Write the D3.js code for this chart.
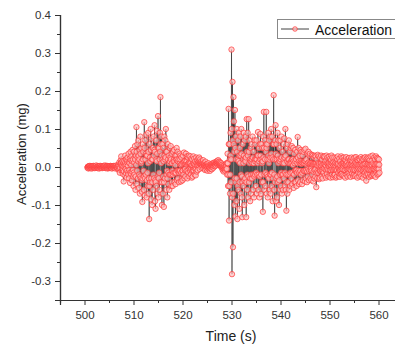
<!DOCTYPE html>
<html><head><meta charset="utf-8">
<script src="https://cdn.jsdelivr.net/npm/d3@7"></script>
<style>body{margin:0;background:#fff}svg{display:block}text{font-family:"Liberation Sans",Arial,sans-serif}</style>
</head><body><svg id="c" width="395" height="347"></svg>
<script>
// sampling of the recorded series
const timeStart = 500.6;
const timeStep = 0.05;
// acceleration values (mg), one per sample (one row = one second)
const acceleration = [
-.002,.000,.001,-.001,-.004,.001,.002,-.002,
-.001,.002,.003,-.001,-.003,.001,.000,-.002,.002,.001,-.004,.000,.001,.002,-.002,-.001,.003,.001,-.001,.000,
.002,.000,-.003,.001,.001,-.001,-.002,.002,.004,.000,-.001,-.002,.000,.001,-.003,.000,.002,.001,-.002,.000,
-.004,-.001,.001,.002,.003,.000,-.002,-.001,.000,.001,.002,-.002,-.003,.000,.001,.002,-.001,.000,.003,.001,
.001,.000,-.002,.001,.004,.000,-.003,-.001,.002,.001,-.001,.000,.003,.001,-.004,-.002,.000,.001,.002,.000,
-.003,-.001,.002,.000,-.001,.001,.003,.000,-.002,.001,.001,-.001,-.004,.000,.002,.001,.000,-.001,-.002,.001,
.003,.001,-.001,.000,.002,-.002,-.004,.001,.001,.003,.004,.000,-.002,.001,.000,-.003,-.003,.002,.005,.006,
-.008,.004,.012,-.005,-.015,-.002,.006,.01,.018,.008,.028,.012,-.01,-.004,.004,.015,-.018,-.008,.01,.002,
-.038,-.012,.015,.005,-.022,.008,.03,.012,-.005,-.016,.02,.006,-.028,-.01,.012,.018,.025,.004,-.015,-.02,
.035,.012,-.03,-.008,.01,.022,-.042,-.015,.04,.018,-.018,.005,.028,-.012,-.035,.015,.045,.02,-.008,-.025,
-.05,-.015,.04,.012,-.02,.025,.055,.02,-.06,-.025,.03,.005,.105,.04,-.045,-.01,.06,.025,-.03,.015,
.07,.03,-.055,-.02,.02,.045,-.07,-.025,.08,.035,-.03,.01,.05,.015,-.065,-.035,-.092,-.03,.06,.02,
.04,-.01,-.06,-.025,.118,.05,-.075,-.03,.07,.02,-.02,.035,.085,.03,-.08,-.035,.03,-.015,-.05,.01,
.09,.04,-.07,-.03,-.137,-.05,.06,.025,-.04,.015,.1,.045,-.085,-.03,.075,.02,-.1,-.04,.02,.05,
-.06,-.02,.08,.03,-.03,.045,.11,.04,-.09,-.035,-.11,-.04,.07,.02,-.05,.015,.095,.035,-.07,-.025,
.134,.05,-.08,-.03,.05,-.015,-.06,.02,.09,.04,.184,.06,-.04,.01,.08,.03,-.1,-.04,.06,.02,
-.07,-.025,.05,.015,-.105,-.04,.08,.03,-.03,.02,.07,.025,.1,.04,-.06,-.02,.04,-.01,-.08,-.03,
.06,.02,-.045,-.015,.03,.01,-.06,-.02,.05,.015,-.02,.025,.055,.02,-.05,-.02,.035,.01,-.04,-.01,
-.05,-.02,.04,.015,-.015,.02,.045,.015,-.04,-.015,.03,.005,-.045,-.015,.02,.03,.05,.02,-.035,-.01,
.04,.015,-.03,-.01,.02,-.015,-.04,-.01,.035,.01,-.01,.02,.03,.005,-.038,-.015,.025,.008,-.03,-.01,
-.035,-.01,.03,.01,-.02,.012,.038,.015,-.03,-.008,.015,-.005,-.025,.008,.035,.012,-.01,.015,.028,.006,
-.03,-.01,.025,.008,-.015,.01,.03,.012,-.025,-.005,.01,-.01,.028,.01,-.02,-.006,.022,.005,-.028,-.01,
.02,.005,-.025,-.008,.028,.01,-.01,.006,.022,.008,-.02,-.004,.015,.005,-.022,-.006,.025,.01,-.012,.004,
.018,.006,-.008,.01,.022,.012,.005,.015,.025,.01,-.005,.008,.02,.012,.01,.006,.015,.008,-.002,.006,
.012,.006,.002,.01,.018,.008,-.004,.004,.01,.005,.006,.002,-.008,.002,.014,.006,.002,.004,-.006,.002,
.008,.002,-.01,-.002,.004,.002,.01,.004,-.006,.000,.002,-.002,-.01,-.004,.006,.002,-.004,.002,.008,.004,
-.006,.000,.004,.006,.01,.004,-.002,.003,.008,.01,.012,.006,.002,.006,.01,.008,.004,.009,.014,.01,
.01,.013,.016,.01,.006,.012,.018,.012,.008,.01,.014,.009,.004,.008,.012,.007,.002,.006,.01,.004,
-.002,.002,.006,.001,-.008,-.003,.002,-.002,-.012,-.006,.004,.000,-.006,-.004,-.01,-.004,.002,.000,-.004,.004,
.01,-.005,-.02,.01,.035,.01,-.05,-.02,.153,.06,-.141,-.05,.06,.02,-.07,-.02,.09,.03,-.04,.02,
.309,.1,-.282,-.08,.224,.07,-.211,-.07,.184,.06,.12,.04,-.1,-.03,.15,.05,-.13,-.04,.08,.02,
-.09,-.03,.1,.04,-.137,-.05,.07,.02,-.06,.015,.09,.03,-.11,-.04,.05,.01,.08,.03,-.07,-.02,
.1,.035,-.08,-.025,-.132,-.04,.06,.02,-.05,.01,.09,.03,-.1,-.035,.07,.02,-.03,.015,.08,.025,
-.132,-.04,.126,.04,-.06,-.02,.09,.03,-.08,-.025,.126,.04,-.04,.01,.07,.02,-.09,-.03,.05,.015,
-.07,-.02,.06,.02,-.03,.01,.08,.025,-.06,-.02,.04,.01,-.08,-.025,.07,.02,-.02,.015,.06,.02,
-.05,-.015,.07,.02,-.07,-.02,.03,.01,.092,.03,-.06,-.02,.05,.015,-.08,-.025,.06,.02,.087,.03,
-.071,-.02,.06,.02,-.04,.01,.05,.015,-.118,-.04,.08,.025,.145,.05,-.06,-.02,.07,.02,-.05,-.015,
.04,.06,.145,.05,-.07,-.02,.06,.02,-.08,-.025,.09,.03,-.03,.01,.07,.02,-.06,-.02,.08,.025,
-.07,-.02,.1,.035,-.05,-.015,.08,.025,-.09,-.03,.06,.02,.189,.06,-.06,-.02,-.128,-.04,.07,.02,
.11,.035,-.09,-.03,.06,.02,-.08,-.025,.09,.03,-.04,.01,.07,.02,-.1,-.035,.05,.015,-.06,-.02,
.07,.02,-.05,-.015,.08,.025,-.07,-.02,.04,.01,-.06,-.02,.06,.02,-.03,.01,.075,.025,-.05,-.015,
.1,.03,-.06,-.02,-.115,-.04,.05,.015,-.07,-.02,.06,.02,-.04,.01,.07,.02,-.06,-.02,.04,.01,
-.05,-.015,.05,.015,-.03,.01,.055,.02,-.045,-.015,.02,.005,.05,.015,-.055,-.02,.035,.01,-.04,-.01,
.045,.015,-.04,-.01,.02,-.008,-.05,-.015,.04,.01,.079,.025,-.035,-.01,.05,.015,-.045,-.015,.03,.01,
-.04,-.01,.045,.015,-.02,.008,.04,.012,-.045,-.015,.03,.01,-.035,-.01,.04,.012,-.01,.01,.045,.015,
-.038,-.01,.048,.015,-.03,-.008,.02,.006,-.04,-.012,.035,.01,-.025,-.006,.04,.012,-.035,-.01,.03,.008,
.035,.01,-.03,-.008,.01,-.004,-.035,-.01,.032,.01,-.02,.006,.03,.008,-.038,-.012,.025,.008,-.03,-.008,
.03,.008,-.025,-.006,.028,.008,-.053,-.015,.02,.005,-.03,-.01,.032,.01,-.015,.004,.028,.008,-.032,-.01,
-.028,-.008,.025,.008,-.01,.004,.03,.01,-.025,-.008,.02,.006,-.03,-.01,.028,.008,-.015,-.004,.026,.008,
.028,.008,-.022,-.006,.015,.004,-.028,-.008,.03,.01,-.018,-.005,.025,.008,-.025,-.008,.01,.003,.027,.008,
-.025,-.008,.022,.006,-.028,-.008,.018,.005,.03,.01,-.02,-.006,.025,.008,-.027,-.008,.012,.004,-.022,-.006,
.025,.008,-.02,-.006,.01,.003,-.028,-.008,.024,.008,-.025,-.008,.02,.006,.028,.008,-.015,-.004,-.024,-.008,
.022,.006,-.026,-.008,.015,.004,-.02,-.006,.028,.008,-.018,-.005,.024,.008,-.022,-.006,.01,.003,.025,.008,
-.024,-.008,.02,.006,-.028,-.008,.018,.005,.026,.008,-.02,-.006,.012,.004,-.025,-.008,.022,.006,-.016,-.005,
.024,.008,-.022,-.006,.018,.005,-.026,-.008,.02,.006,.025,.008,-.018,-.005,.015,.004,-.024,-.008,.022,.006,
-.02,-.006,.025,.008,-.024,-.008,.012,.004,.026,.008,-.022,-.006,.02,.006,-.028,-.008,.018,.005,-.015,-.004,
.022,.006,-.025,-.008,.02,.006,-.018,-.005,.026,.008,-.024,-.008,.015,.004,.022,.006,-.028,-.008,.02,.006,
-.02,-.006,.024,.008,-.015,-.004,.026,.008,-.022,-.006,-.036,-.01,.022,.006,-.018,-.005,.025,.008,-.02,-.006,
.022,.006,-.026,-.008,.018,.005,-.02,-.006,.028,.008,-.024,-.008,.016,.005,-.022,-.006,.03,.01,-.018,-.005,
-.02,-.006,.025,.008,-.022,-.006,.02,.006,-.026,-.008,.028,.008,-.015,-.004,.024,.008,-.02,-.006,.022,.006,
-.018,-.005,.02,.006,-.015
];
const xTicks = [500,510,520,530,540,550,560];
const xMinor = [495,505,515,525,535,545,555,565];
const yTicks = [-0.3,-0.2,-0.1,0.0,0.1,0.2,0.3,0.4];
const yMinor = [-0.35,-0.25,-0.15,-0.05,0.05,0.15,0.25,0.35];
const seriesName = "Acceleration";
const xTitle = "Time (s)";
const yTitle = "Acceleration (mg)";

const data = acceleration.map((v,i)=>({t: timeStart + i*timeStep, v}));
const svg = d3.select("#c");
const x = d3.scaleLinear().domain([495,565]).range([60,403]);
const y = d3.scaleLinear().domain([-0.35,0.4]).range([300,15]);
const axisCol = "#333";
const fmtY = d => d.toFixed(1);

// axes
const gx = svg.append("g").attr("transform","translate(0,300)");
gx.call(d3.axisBottom(x).tickValues(xTicks).tickSize(5).tickPadding(6).tickFormat(d3.format("d")));
gx.append("g").call(d3.axisBottom(x).tickValues(xMinor).tickSize(3).tickFormat(""));
const gy = svg.append("g").attr("transform","translate(60,0)");
gy.call(d3.axisLeft(y).tickValues(yTicks).tickSize(5).tickPadding(4).tickFormat(fmtY));
gy.append("g").call(d3.axisLeft(y).tickValues(yMinor).tickSize(3).tickFormat(""));
svg.selectAll(".domain").attr("stroke",axisCol).attr("stroke-width",1.2);
svg.selectAll(".tick line").attr("stroke",axisCol);
svg.selectAll(".tick text").attr("fill","#333").style("font-size","11.5px").style("font-family","Liberation Sans, Arial, sans-serif");

// titles
svg.append("text").attr("x",231).attr("y",341).attr("text-anchor","middle")
  .style("font-size","14px").attr("fill","#222").text(xTitle);
svg.append("text").attr("transform","translate(26,154) rotate(-90)").attr("text-anchor","middle")
  .style("font-size","13px").attr("fill","#222").text(yTitle);

// series
const line = d3.line().x(d=>x(d.t)).y(d=>y(d.v));
svg.append("path").datum(data).attr("d",line).attr("fill","none").attr("stroke","#222").attr("stroke-width",0.6);
svg.append("g").selectAll("circle").data(data).join("circle")
  .attr("cx",d=>x(d.t)).attr("cy",d=>y(d.v)).attr("r",2.7)
  .attr("fill","rgba(255,190,190,0.7)").attr("stroke","#ff3535").attr("stroke-width",0.7);

// legend
const lg = svg.append("g");
lg.append("rect").attr("x",277.5).attr("y",19.5).attr("width",130).attr("height",19)
  .attr("fill","#fff").attr("stroke","#888");
lg.append("line").attr("x1",281).attr("x2",309).attr("y1",29).attr("y2",29).attr("stroke","#111").attr("stroke-width",0.8);
lg.append("circle").attr("cx",295).attr("cy",29).attr("r",2.3).attr("fill","rgba(255,190,190,0.7)").attr("stroke","#ff3535").attr("stroke-width",0.7);
lg.append("text").attr("x",315).attr("y",34.5).style("font-size","14px").attr("fill","#111").text(seriesName);
</script></body></html>
